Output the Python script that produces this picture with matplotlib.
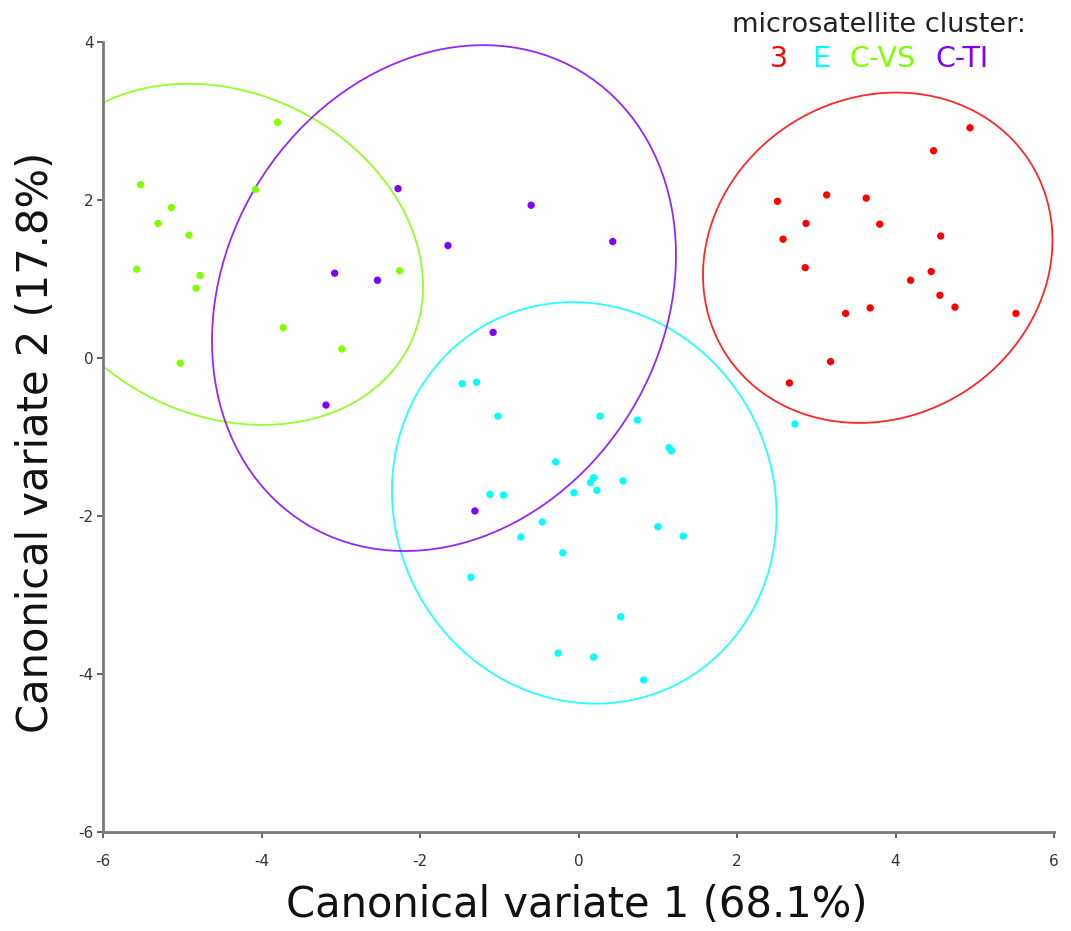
import numpy as np
import matplotlib
matplotlib.use('Agg')
import matplotlib.pyplot as plt
from matplotlib.patches import Ellipse

plt.rcParams['axes.unicode_minus'] = False

# canonical variate scores, by microsatellite cluster
cl3_x = [4.94, 4.48, 2.51, 3.13, 3.63, 2.87, 3.80, 2.58, 4.57, 2.86,
         4.45, 4.19, 4.56, 4.75, 3.68, 3.37, 5.52, 3.18, 2.66]
cl3_y = [2.91, 2.62, 1.98, 2.06, 2.02, 1.70, 1.69, 1.50, 1.54, 1.14,
         1.09, 0.98, 0.79, 0.64, 0.63, 0.56, 0.56, -0.05, -0.32]

clE_x = [-1.47, -1.29, -1.02, 0.27, 0.74, 1.14, 1.17, -0.29, 0.19, 0.15,
         0.56, 0.23, -0.06, -1.12, -0.95, -0.46, -0.73, 1.00, 1.32, -0.20,
         -1.36, 0.53, -0.26, 0.19, 0.82, 2.73]
clE_y = [-0.33, -0.31, -0.74, -0.74, -0.79, -1.14, -1.18, -1.32, -1.52, -1.58,
         -1.56, -1.68, -1.71, -1.73, -1.74, -2.08, -2.27, -2.14, -2.26, -2.47,
         -2.78, -3.28, -3.74, -3.79, -4.08, -0.84]

clVS_x = [-5.53, -5.14, -5.31, -4.92, -5.58, -4.78, -4.83, -5.03, -3.80,
          -4.08, -3.73, -2.99, -2.26]
clVS_y = [2.19, 1.90, 1.70, 1.55, 1.12, 1.04, 0.88, -0.07, 2.98,
          2.13, 0.38, 0.11, 1.10]

clTI_x = [-2.28, -0.60, -1.65, 0.43, -3.08, -2.54, -1.08, -3.19, -1.31]
clTI_y = [2.14, 1.93, 1.42, 1.47, 1.07, 0.98, 0.32, -0.60, -1.94]

names = ['3', 'E', 'C-VS', 'C-TI']
colors = ['#FF0000', '#00FFFF', '#80FF00', '#8000FF']
groups = [(cl3_x, cl3_y), (clE_x, clE_y), (clVS_x, clVS_y), (clTI_x, clTI_y)]

ticks = [-6, -4, -2, 0, 2, 4, 6]
yticks = [-6, -4, -2, 0, 2, 4]

fig = plt.figure(figsize=(10.71, 9.31), dpi=100)
ax = fig.add_axes([0.0965, 0.1067, 0.8876, 0.8485])

# 95% ellipses from each cluster's covariance
chi2_95 = 5.991
for (gx, gy), c in zip(groups, colors):
    gx = np.array(gx)
    gy = np.array(gy)
    ax.scatter(gx, gy, s=28, color=c, edgecolors='none', zorder=3)
    cov = np.cov(gx, gy)
    vals, vecs = np.linalg.eigh(cov)
    order = vals.argsort()[::-1]
    vals, vecs = vals[order], vecs[:, order]
    angle = np.degrees(np.arctan2(vecs[1, 0], vecs[0, 0]))
    w, h = 2 * np.sqrt(chi2_95 * vals)
    ax.add_patch(Ellipse((gx.mean(), gy.mean()), w, h, angle=angle,
                         fill=False, edgecolor=c, lw=1.3, alpha=0.85, zorder=2))

ax.set_xlim(-6, 6)
ax.set_ylim(-6, 4)
ax.set_xticks(ticks)
ax.set_yticks(yticks)
for s in ['top', 'right']:
    ax.spines[s].set_visible(False)
for s in ['left', 'bottom']:
    ax.spines[s].set_color('#7a7a7a')
    ax.spines[s].set_linewidth(2.0)
ax.tick_params(direction='out', length=4, width=1.3, color='#555555',
               labelsize=11, labelcolor='#333333', pad=3)
ax.tick_params(axis='x', pad=12)

ax.set_xlabel('Canonical variate 1 (68.1%)', fontsize=30, color='#111111', va='center')
ax.xaxis.set_label_coords(0.498, -0.093)
ax.set_ylabel('Canonical variate 2 (17.8%)', fontsize=30, color='#111111', va='center')
ax.yaxis.set_label_coords(-0.071, 0.493)

fig.text(0.821, 0.973, 'microsatellite cluster:', fontsize=19.5, color='#222222',
         ha='center', va='center')
leg_x = [0.727, 0.767, 0.824, 0.898]
for lx, n, c in zip(leg_x, names, colors):
    fig.text(lx, 0.937, n, fontsize=20.5, color=c, ha='center', va='center')

fig.savefig('out.png', dpi=100)
